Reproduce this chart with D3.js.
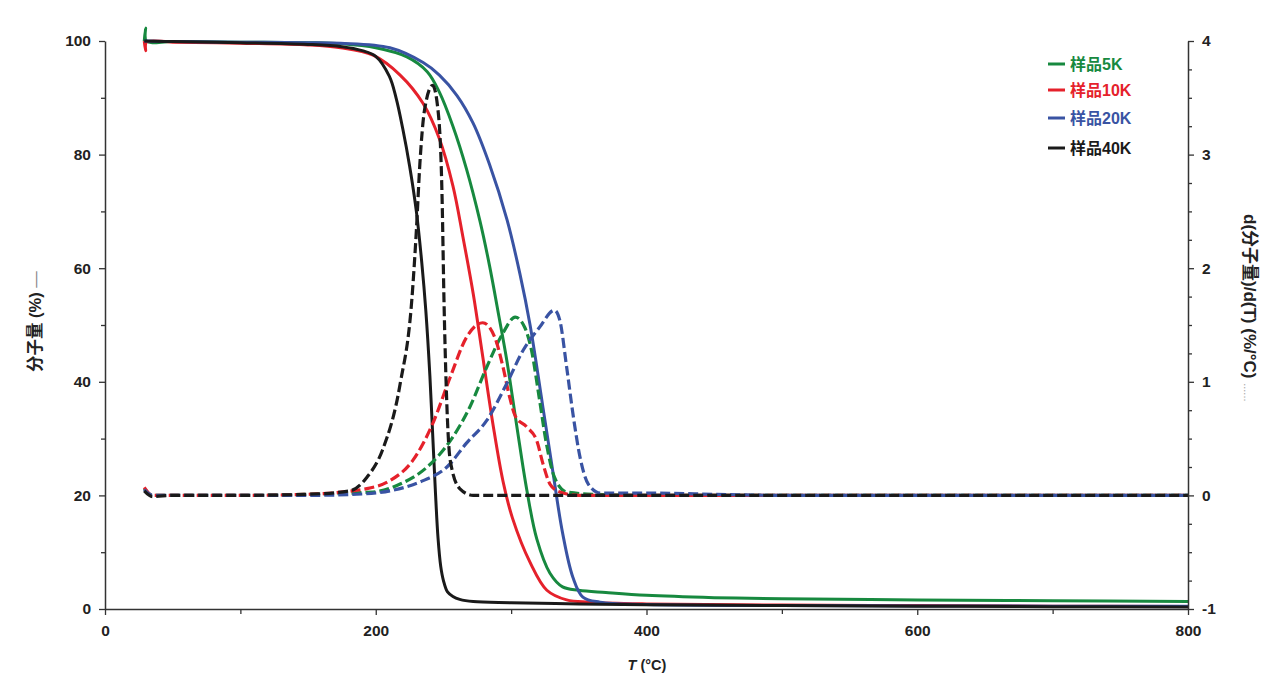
<!DOCTYPE html>
<html><head><meta charset="utf-8">
<script src="https://cdn.jsdelivr.net/npm/d3@7"></script>
<style>
body{margin:0;background:#fff;}
text{font-family:"Liberation Sans","Noto Sans CJK SC",Arial,sans-serif;}
</style></head>
<body><svg id="c" width="1280" height="696"></svg>
<script>
// ---- data ----
const seriesNames = ["样品5K","样品10K","样品20K","样品40K"];
const seriesColors = ["#17893f","#e5212b","#3953a3","#1a1a1a"];
const xTicks = [0,200,400,600,800];
const yLeftTicks = [0,20,40,60,80,100];
const yRightTicks = [-1,0,1,2,3,4];

// TGA (weight %, left axis) [T, %]
const tga5K = [[29,100],[30,102.3],[30.6,100],[50,99.9],[100,99.8],[150,99.7],[175,99.5],[200,98.8],[223,97.2],[238,94.6],[247,91],[257,85],[267,77.5],[277,68.3],[284,60.5],[291,51.5],[297,43.5],[304,32.5],[311.7,20.8],[319,12.3],[328.7,6.3],[338,3.9],[350,3.3],[370,2.9],[400,2.4],[450,2.0],[500,1.8],[600,1.6],[700,1.45],[800,1.3]];
const tga10K = [[29,100],[30,98.3],[30.6,99.8],[50,99.8],[100,99.6],[150,99.3],[174,98.8],[198,97.5],[218,94],[235,89],[247,82.8],[257,74.5],[264.4,65.5],[272,55.5],[279,44.5],[286.6,32.5],[294,22.5],[301,16],[314,8.2],[326.4,3.3],[341,1.6],[358,1.2],[400,0.9],[500,0.7],[600,0.6],[700,0.5],[800,0.45]];
const tga20K = [[29,100],[50,99.9],[100,99.8],[150,99.7],[174,99.6],[210.5,98.8],[235,96.2],[247,94],[260,90.4],[272,85.5],[284,78.3],[297,68.5],[306.5,59],[314,50],[323.5,35.5],[331,23.9],[338,13.4],[345.6,5.6],[353,2.1],[365.6,1.2],[400,0.8],[500,0.6],[600,0.55],[700,0.5],[800,0.5]];
const tga40K = [[29,100],[50,99.9],[100,99.7],[150,99.4],[175,99.0],[190,98.3],[200,97.3],[210,93.8],[215,90],[220,84.5],[225,78],[230,70],[234,61],[237,52.5],[240,41],[242,31],[244,21],[246,12.5],[248,7.5],[250,5],[253,3],[257,2.2],[262,1.7],[272,1.3],[300,1.1],[350,0.9],[400,0.75],[500,0.6],[600,0.5],[700,0.4],[800,0.35]];

// DTG (%/°C, right axis) [T, value]
const dtg5K = [[29,0.06],[35,0.0],[50,0.0],[100,0.0],[150,0.01],[198,0.03],[218,0.10],[238,0.25],[255,0.48],[269.6,0.78],[282,1.13],[294,1.43],[303,1.57],[310,1.48],[315,1.28],[321,0.84],[326,0.46],[332,0.16],[341,0.03],[360,0.01],[400,0.0],[500,0.0],[600,0.0],[700,0.0],[800,0.0]];
const dtg10K = [[29,0.07],[35,0.0],[50,0.0],[100,0.0],[150,0.01],[193.5,0.06],[210.5,0.13],[227.5,0.31],[242,0.63],[255,1.04],[267,1.39],[279,1.52],[288,1.39],[294,1.13],[299,0.86],[303,0.70],[311.7,0.60],[319,0.48],[323.5,0.28],[328.7,0.10],[336,0.03],[350,0.0],[400,0.0],[500,0.0],[600,0.0],[700,0.0],[800,0.0]];
const dtg20K = [[29,0.05],[35,0.0],[50,0.0],[100,0.0],[150,0.0],[186,0.01],[210.5,0.04],[235,0.13],[252.6,0.25],[267,0.46],[282,0.66],[297,0.99],[309,1.28],[321,1.48],[332,1.63],[336,1.54],[341,1.13],[346,0.69],[351,0.33],[357,0.10],[366,0.02],[400,0.02],[450,0.01],[500,0.0],[600,0.0],[700,0.0],[800,0.0]];
const dtg40K = [[29,0.04],[35,-0.01],[50,0.0],[100,0.0],[150,0.01],[181,0.04],[193.5,0.16],[205,0.40],[218,0.98],[226.7,1.73],[230,2.33],[232.6,2.92],[236,3.39],[242,3.61],[246,3.39],[249,2.62],[250.4,1.72],[252.4,0.84],[255,0.31],[262,0.06],[272,0.0],[300,0.0],[400,0.0],[500,0.0],[600,0.0],[700,0.0],[800,0.0]];

const tgaSeries = [tga5K,tga10K,tga20K,tga40K];
const dtgSeries = [dtg5K,dtg10K,dtg20K,dtg40K];

// ---- chart ----
const svg = d3.select("#c");
const x = d3.scaleLinear().domain([0,800]).range([105,1188]);
const yL = d3.scaleLinear().domain([0,100]).range([609,41]);
const yR = d3.scaleLinear().domain([-1,4]).range([609,41]);

const lineL = d3.line().x(d=>x(d[0])).y(d=>yL(d[1])).curve(d3.curveCatmullRom.alpha(0.5));
const lineR = d3.line().x(d=>x(d[0])).y(d=>yR(d[1])).curve(d3.curveMonotoneX);

const plot = svg.append("g");
tgaSeries.forEach((s,i)=>{
  plot.append("path").attr("d",lineL(s)).attr("fill","none")
    .attr("stroke",seriesColors[i]).attr("stroke-width",3).attr("stroke-linejoin","round");
});
dtgSeries.forEach((s,i)=>{
  plot.append("path").attr("d",lineR(s)).attr("fill","none")
    .attr("stroke",seriesColors[i]).attr("stroke-width",3.2)
    .attr("stroke-dasharray","10,4");
});

function styleAxis(g){
  g.selectAll(".domain").attr("stroke","#333").attr("stroke-width",1.5);
  g.selectAll(".tick line").attr("stroke","#333").attr("stroke-width",1.3);
  g.selectAll(".tick text").attr("font-size",15.5).attr("font-weight","bold").attr("fill","#222");
}
const minorX = [100,300,500,700];
const minorL = [10,30,50,70,90];
const minorR = d3.range(-1,4.01,0.25).filter(v=>Math.abs(v-Math.round(v))>1e-6);
const fmt = d=>String(d);

const gx = svg.append("g").attr("transform","translate(0,609)")
  .call(d3.axisBottom(x).tickValues(xTicks).tickSize(6).tickSizeOuter(0).tickPadding(10).tickFormat(fmt));
styleAxis(gx);
const gxm = svg.append("g").attr("transform","translate(0,609)")
  .call(d3.axisBottom(x).tickValues(minorX).tickSize(5).tickFormat(""));
styleAxis(gxm); gxm.select(".domain").remove();

const gl = svg.append("g").attr("transform","translate(105,0)")
  .call(d3.axisLeft(yL).tickValues(yLeftTicks).tickSize(6).tickSizeOuter(0).tickPadding(8).tickFormat(fmt));
styleAxis(gl);
const glm = svg.append("g").attr("transform","translate(105,0)")
  .call(d3.axisLeft(yL).tickValues(minorL).tickSize(4).tickFormat(""));
styleAxis(glm); glm.select(".domain").remove();

const gr = svg.append("g").attr("transform","translate(1188,0)")
  .call(d3.axisRight(yR).tickValues(yRightTicks).tickSize(6).tickSizeOuter(0).tickPadding(8).tickFormat(fmt));
styleAxis(gr);
const grm = svg.append("g").attr("transform","translate(1188,0)")
  .call(d3.axisRight(yR).tickValues(minorR).tickSize(4).tickFormat(""));
styleAxis(grm); grm.select(".domain").remove();

// axis titles
const xt = svg.append("text").attr("x",647).attr("y",670).attr("text-anchor","middle")
  .attr("font-size",14.5).attr("font-weight","bold").attr("fill","#222");
xt.append("tspan").attr("font-style","italic").text("T");
xt.append("tspan").text(" (°C)");

const lt = svg.append("text").attr("transform","translate(41,372) rotate(-90)")
  .attr("text-anchor","start").attr("font-size",16.5).attr("font-weight","bold").attr("fill","#222");
lt.append("tspan").text("分子量 (%) ");
lt.append("tspan").attr("fill","#888").attr("font-weight","normal").text("—");

const rt = svg.append("text").attr("transform","translate(1244,214) rotate(90)")
  .attr("text-anchor","start").attr("font-size",17).attr("font-weight","bold").attr("fill","#222");
rt.append("tspan").text("d(分子量)/d(T) (%/°C) ");
rt.append("tspan").attr("fill","#999").attr("font-weight","normal").attr("font-size",11).text("......");

// legend
const lg = svg.append("g");
seriesNames.forEach((n,i)=>{
  const yy = [64,90,118,148][i];
  lg.append("line").attr("x1",1048).attr("x2",1065).attr("y1",yy).attr("y2",yy)
    .attr("stroke",seriesColors[i]).attr("stroke-width",3);
  lg.append("text").attr("x",1070).attr("y",yy).attr("dy","0.35em")
    .attr("font-size",16).attr("font-weight","bold").attr("fill",seriesColors[i]).text(n);
});
</script></body></html>
